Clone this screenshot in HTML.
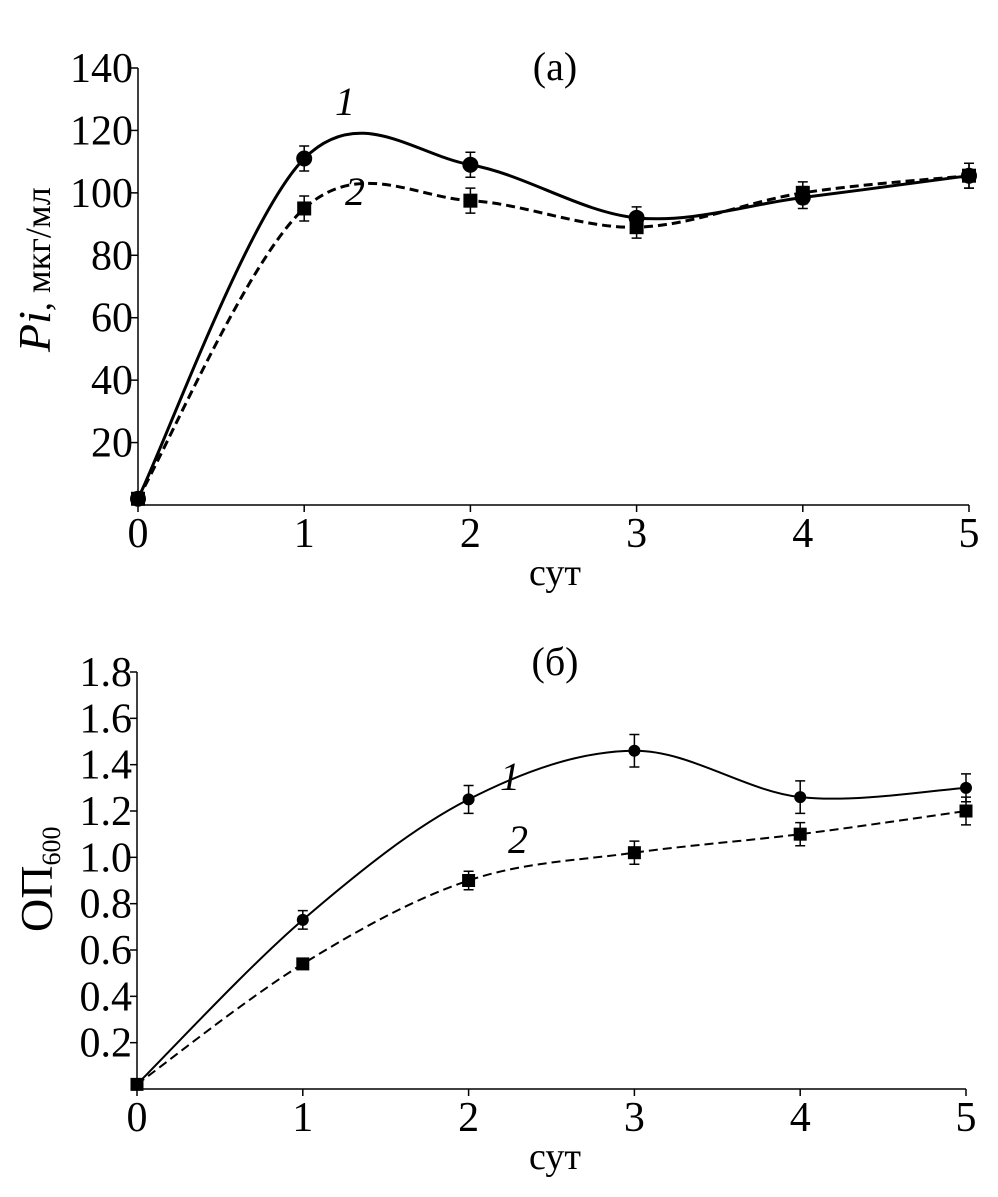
<!DOCTYPE html>
<html><head><meta charset="utf-8"><style>
body{margin:0;background:#fff}
svg text{font-family:"Liberation Serif",serif;fill:#000}
</style></head><body>
<svg id="c" width="998" height="1192" viewBox="0 0 998 1192" xmlns="http://www.w3.org/2000/svg"></svg>
<script>
const days=[0,1,2,3,4,5];
const piS1=[2,111,109,92,98.5,105.5];
const piS1Err=[1,4,4,3.5,3.5,4];
const piS2=[2,95,97.5,89,100,105.5];
const piS2Err=[1,4,4,3.5,3.5,4];
const piTicks=[20,40,60,80,100,120,140];
const odS1=[0.02,0.73,1.25,1.46,1.26,1.30];
const odS1Err=[0.01,0.04,0.06,0.07,0.07,0.06];
const odS2=[0.02,0.54,0.90,1.02,1.10,1.20];
const odS2Err=[0.01,0.02,0.04,0.05,0.05,0.06];
const odTicks=[0.2,0.4,0.6,0.8,1.0,1.2,1.4,1.6,1.8];
const xTicks=[0,1,2,3,4,5];
const NS='http://www.w3.org/2000/svg';
const svg=document.getElementById('c');
function mk(tag,attrs,parent){const e=document.createElementNS(NS,tag);for(const k in attrs)e.setAttribute(k,attrs[k]);(parent||svg).appendChild(e);return e;}
function spline(pts){let d='M'+pts[0][0]+','+pts[0][1];const t=0.5/3*2;
for(let i=0;i<pts.length-1;i++){const p0=pts[i-1]||pts[i],p1=pts[i],p2=pts[i+1],p3=pts[i+2]||p2;
const c1=[p1[0]+(p2[0]-p0[0])*t/2,p1[1]+(p2[1]-p0[1])*t/2];const c2=[p2[0]-(p3[0]-p1[0])*t/2,p2[1]-(p3[1]-p1[1])*t/2];
d+=' C'+c1+' '+c2+' '+p2;}return d;}
function chart(o){
 const g=mk('g',{});
 const X=v=>o.x0+(v/5)*(o.x1-o.x0);const Y=v=>o.y0-(v/o.ymax)*(o.y0-o.ytop);
 const ax=mk('path',{d:`M${o.x0},${o.ytop} V${o.y0} H${o.x1}`,stroke:'#000','stroke-width':1.5,fill:'none'},g);
 
 o.yt.forEach(v=>{mk('line',{x1:o.x0-7,x2:o.x0,y1:Y(v),y2:Y(v),stroke:'#000','stroke-width':1.5},g);
  const t=mk('text',{x:o.x0-5,y:Y(v)+14,'text-anchor':'end','font-size':42},g);t.textContent=o.fmt(v);
  });
 xTicks.forEach(v=>{mk('line',{x1:X(v),x2:X(v),y1:o.y0,y2:o.y0+7,stroke:'#000','stroke-width':1.5},g);
  const t=mk('text',{x:X(v),y:o.y0+42,'text-anchor':'middle','font-size':42},g);t.textContent=v;
  });
 const xt=mk('text',{x:555,y:o.y0+80,'text-anchor':'middle','font-size':38},g);xt.textContent='сут';
 
 [[o.s1,o.e1,'s1'],[o.s2,o.e2,'s2']].forEach(([s,e,k])=>{
  const p=mk('path',{d:spline(days.map((d,i)=>[X(d),Y(s[i])])),fill:'none',stroke:'#000','stroke-width':o.sw,'stroke-dasharray':k=='s2'?'9,5':'none'},g);
  
  days.forEach((d,i)=>{const cx=X(d),cy=Y(s[i]);
   if(i>0){const eb=mk('path',{d:`M${cx},${Y(s[i]+e[i])} V${Y(s[i]-e[i])} M${cx-5},${Y(s[i]+e[i])} h10 M${cx-5},${Y(s[i]-e[i])} h10`,stroke:'#000','stroke-width':1.5,fill:'none'},g);
    }
   let m;if(k=='s1')m=mk('circle',{cx,cy,r:o.mr},g);else m=mk('rect',{x:cx-o.sq,y:cy-o.sq,width:o.sq*2,height:o.sq*2},g);
   });
 });
 return g;}
chart({name:'chart-a',x0:138,x1:969,y0:505,ytop:68,ymax:140,yt:piTicks,fmt:v=>v,s1:piS1,e1:piS1Err,s2:piS2,e2:piS2Err,sw:3,mr:8,sq:7});
chart({name:'chart-b',x0:137,x1:966,y0:1089,ytop:672,ymax:1.8,yt:odTicks,fmt:v=>v.toFixed(1),s1:odS1,e1:odS1Err,s2:odS2,e2:odS2Err,sw:2,mr:6,sq:6.5});
function txt(x,y,s,str,name,extra){const t=mk('text',Object.assign({x,y,'font-size':s},extra||{}));t.textContent=str;return t;}
txt(555,80,40,'(а)','panel-label-a',{'text-anchor':'middle'});
txt(555,675,40,'(б)','panel-label-b',{'text-anchor':'middle'});
txt(335,115,40,'1','curve-label-1a',{'font-style':'italic'});
txt(345,205,40,'2','curve-label-2a',{'font-style':'italic'});
txt(500,790,40,'1','curve-label-1b',{'font-style':'italic'});
txt(508,853,40,'2','curve-label-2b',{'font-style':'italic'});
const yt1=mk('text',{transform:'translate(50,352) rotate(-90)','text-anchor':'start','font-size':36});

yt1.innerHTML='<tspan font-style="italic" font-size="46">Pi</tspan>, мкг/мл';
const yt2=mk('text',{transform:'translate(52,932) rotate(-90)','text-anchor':'start','font-size':46});

yt2.innerHTML='ОП<tspan font-size="26" dy="8">600</tspan>';
</script>
</body></html>
